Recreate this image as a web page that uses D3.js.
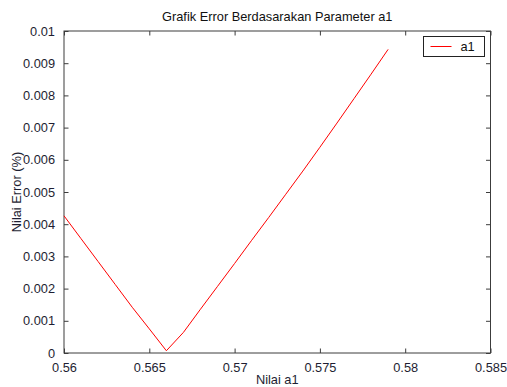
<!DOCTYPE html>
<html>
<head>
<meta charset="utf-8">
<script src="https://cdn.jsdelivr.net/npm/d3@7"></script>
<style>
  html, body { margin: 0; padding: 0; background: #fff; }
  svg { display: block; font-family: "Liberation Sans", Arial, sans-serif; }
</style>
</head>
<body>
<div id="chart"></div>
<script>
// Parameter a1 values and the resulting error (%)
const a1Values = [0.560, 0.561, 0.562, 0.563, 0.564, 0.565, 0.566, 0.567, 0.568, 0.569,
                  0.570, 0.571, 0.572, 0.573, 0.574, 0.575, 0.576, 0.577, 0.578, 0.579];
const errorValues = [0.00426, 0.00355, 0.00284, 0.00213, 0.00142, 0.00075, 0.00007, 0.00064, 0.00136, 0.00207,
                     0.00278, 0.00350, 0.00421, 0.00493, 0.00565, 0.00639, 0.00714, 0.00790, 0.00866, 0.00943];

const xTicks = [0.56, 0.565, 0.57, 0.575, 0.58, 0.585];
const yTicks = [0, 0.001, 0.002, 0.003, 0.004, 0.005, 0.006, 0.007, 0.008, 0.009, 0.01];
const xTickLabels = ["0.56", "0.565", "0.57", "0.575", "0.58", "0.585"];
const yTickLabels = ["0", "0.001", "0.002", "0.003", "0.004", "0.005", "0.006", "0.007", "0.008", "0.009", "0.01"];

const titleText = "Grafik Error Berdasarakan Parameter a1";
const xLabelText = "Nilai a1";
const yLabelText = "Nilai Error (%)";
const seriesName = "a1";

const W = 507, H = 387;
const margin = { left: 64, right: 16.5, top: 31, bottom: 34 };
const fontSize = 12.8;

const svg = d3.select("#chart").append("svg")
  .attr("width", W).attr("height", H);

const x = d3.scaleLinear().domain([0.56, 0.585]).range([margin.left, W - margin.right]);
const y = d3.scaleLinear().domain([0, 0.01]).range([H - margin.bottom, margin.top]);

const axisColor = "#3c3c3c";
const textColor = "#1e1e32";
const tickLen = 4.5;

// plot background
svg.append("rect")
  .attr("x", x.range()[0]).attr("y", y.range()[1])
  .attr("width", x.range()[1] - x.range()[0])
  .attr("height", y.range()[0] - y.range()[1])
  .attr("fill", "#fff");

// axes with inward ticks
const xIdx = new Map(xTicks.map((t, i) => [t, xTickLabels[i]]));
const yIdx = new Map(yTicks.map((t, i) => [t, yTickLabels[i]]));

function styleAxis(g) {
  g.select(".domain").remove();
  g.selectAll(".tick line").attr("stroke", axisColor).attr("stroke-width", 1);
  g.selectAll(".tick text").attr("fill", textColor).attr("font-size", fontSize)
    .attr("font-family", "Liberation Sans, Arial, sans-serif");
}

svg.append("g")
  .attr("transform", `translate(0,${y.range()[0]})`)
  .call(d3.axisBottom(x).tickValues(xTicks).tickFormat(d => xIdx.get(d))
    .tickSizeInner(-tickLen).tickSizeOuter(0).tickPadding(10))
  .call(styleAxis);

svg.append("g")
  .attr("transform", `translate(0,${y.range()[1]})`)
  .call(d3.axisTop(x).tickValues(xTicks).tickFormat("")
    .tickSizeInner(-tickLen).tickSizeOuter(0))
  .call(styleAxis);

svg.append("g")
  .attr("transform", `translate(${x.range()[0]},0)`)
  .call(d3.axisLeft(y).tickValues(yTicks).tickFormat(d => yIdx.get(d))
    .tickSizeInner(-tickLen).tickSizeOuter(0).tickPadding(9))
  .call(styleAxis);

svg.append("g")
  .attr("transform", `translate(${x.range()[1]},0)`)
  .call(d3.axisRight(y).tickValues(yTicks).tickFormat("")
    .tickSizeInner(-tickLen).tickSizeOuter(0))
  .call(styleAxis);

// axes box
svg.append("rect")
  .attr("x", x.range()[0]).attr("y", y.range()[1])
  .attr("width", x.range()[1] - x.range()[0])
  .attr("height", y.range()[0] - y.range()[1])
  .attr("fill", "none").attr("stroke", axisColor).attr("stroke-width", 1);

// error curve
const line = d3.line().x((d, i) => x(a1Values[i])).y(d => y(d));
svg.append("path")
  .datum(errorValues)
  .attr("d", line)
  .attr("fill", "none")
  .attr("stroke", "#ff0000")
  .attr("stroke-width", 1);

// title and labels
svg.append("text")
  .attr("x", (x.range()[0] + x.range()[1]) / 2).attr("y", 20.5)
  .attr("text-anchor", "middle").attr("font-size", fontSize).attr("fill", "#111")
  .text(titleText);

svg.append("text")
  .attr("x", (x.range()[0] + x.range()[1]) / 2).attr("y", 384)
  .attr("text-anchor", "middle").attr("font-size", fontSize).attr("fill", textColor)
  .text(xLabelText);

svg.append("text")
  .attr("transform", `translate(21,${(y.range()[0] + y.range()[1]) / 2}) rotate(-90)`)
  .attr("text-anchor", "middle").attr("font-size", fontSize).attr("fill", textColor)
  .text(yLabelText);

// legend
const lg = svg.append("g").attr("transform", "translate(423.5,36.5)");
lg.append("rect").attr("width", 61).attr("height", 20)
  .attr("fill", "#fff").attr("stroke", "#222").attr("stroke-width", 1);
lg.append("line").attr("x1", 7).attr("x2", 28).attr("y1", 10).attr("y2", 10)
  .attr("stroke", "#ff0000").attr("stroke-width", 1);
lg.append("text").attr("x", 37).attr("y", 14.5)
  .attr("font-size", fontSize).attr("fill", "#111").text(seriesName);
</script>
</body>
</html>
